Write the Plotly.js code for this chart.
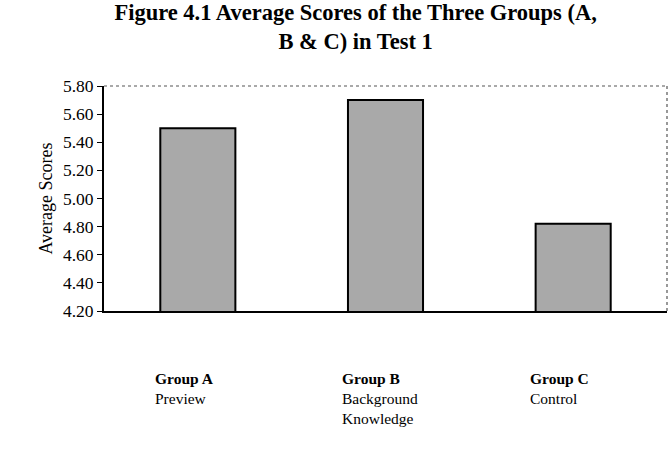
<!DOCTYPE html>
<html>
<head>
<meta charset="utf-8">
<script src="https://cdn.plot.ly/plotly-3.0.1.min.js"></script>
<style>
html,body{margin:0;padding:0;background:#fff;}
#chart{width:671px;height:462px;}
</style>
</head>
<body>
<div id="chart"></div>
<script>
// Data
const categories = ['Group A', 'Group B', 'Group C'];
const groupNames = ['Group A', 'Group B', 'Group C'];
const groupDescriptions = ['Preview', 'Background<br>Knowledge', 'Control'];
const averageScores = [5.50, 5.70, 4.82];
const yTickValues = [4.2, 4.4, 4.6, 4.8, 5.0, 5.2, 5.4, 5.6, 5.8];

const serif = 'Liberation Serif, Times New Roman, serif';

const trace = {
  type: 'bar',
  x: categories,
  y: averageScores,
  width: 0.4,
  marker: {
    color: '#b0b0b0',
    line: {color: '#000', width: 2},
    pattern: {shape: '.', fgcolor: '#707070', bgcolor: '#d6d6d6', size: 2, solidity: 0.5}
  },
  hoverinfo: 'none'
};

const annotations = categories.map((c, i) => ({
  x: i - 0.24,
  y: -0.255,
  xref: 'x',
  yref: 'paper',
  xanchor: 'left',
  yanchor: 'top',
  align: 'left',
  showarrow: false,
  text: '<b>' + groupNames[i] + '</b><br>' + groupDescriptions[i],
  font: {family: serif, size: 15.5, color: '#000'}
}));

const layout = {
  width: 671,
  height: 462,
  margin: {l: 104, r: 4, t: 86, b: 151},
  paper_bgcolor: '#fff',
  plot_bgcolor: '#fff',
  showlegend: false,
  title: {
    text: '<b>Figure 4.1 Average Scores of the Three Groups (A,<br>B & C) in Test 1</b>',
    font: {family: serif, size: 22.5, color: '#000'},
    x: 0.53,
    xanchor: 'center',
    xref: 'container',
    y: 1 - 20 / 462,
    yref: 'container',
    yanchor: 'middle'
  },
  xaxis: {
    type: 'category',
    range: [-0.5, 2.5],
    showticklabels: false,
    ticks: '',
    showline: true,
    linecolor: '#000',
    linewidth: 1.5,
    showgrid: false,
    zeroline: false,
    fixedrange: true
  },
  yaxis: {
    range: [4.2, 5.8],
    tickvals: yTickValues,
    tickformat: '.2f',
    ticks: 'outside',
    ticklen: 5,
    tickwidth: 1,
    tickcolor: '#000',
    showline: true,
    linecolor: '#000',
    linewidth: 2,
    showgrid: false,
    zeroline: false,
    tickfont: {family: serif, size: 17.5, color: '#000'},
    title: {text: 'Average Scores', font: {family: serif, size: 18, color: '#000'}, standoff: 6},
    fixedrange: true
  },
  shapes: [
    {type: 'line', xref: 'paper', yref: 'paper', x0: 0, x1: 1, y0: 1, y1: 1,
     line: {color: '#555', width: 1.2, dash: 'dot'}},
    {type: 'line', xref: 'paper', yref: 'paper', x0: 1, x1: 1, y0: 0, y1: 1,
     line: {color: '#555', width: 1.2, dash: 'dot'}}
  ],
  annotations: annotations
};

Plotly.newPlot('chart', [trace], layout, {displayModeBar: false, staticPlot: true});
</script>
</body>
</html>
